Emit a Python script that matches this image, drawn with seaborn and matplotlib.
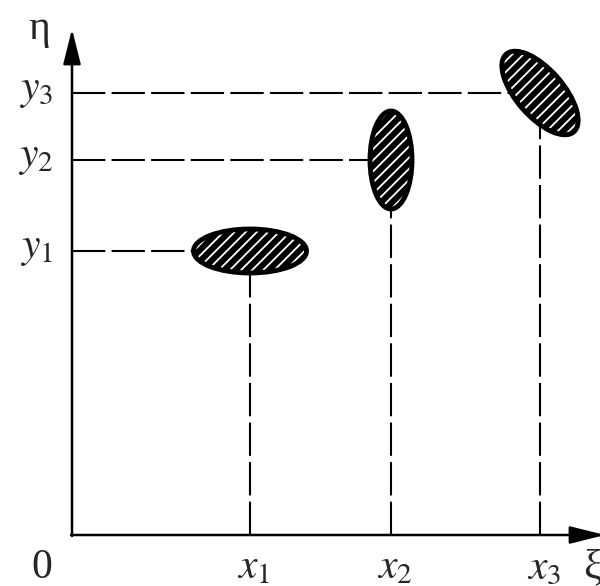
import pandas as pd
import seaborn as sns
import matplotlib.pyplot as plt
from matplotlib.patches import Ellipse

# Points (positions of the three regions on the xi / eta axes)
x_vals = [178, 319, 468]
y_vals = [284, 375, 442]
x_labels = ['$x_1$', '$x_2$', '$x_3$']
y_labels = ['$y_1$', '$y_2$', '$y_3$']

# Shape of each region around its point
ell_width = [113, 42, 103]
ell_height = [44, 98, 47]
ell_angle = [0, 0, -49]

sns.set_theme(style='white')
plt.rcParams['mathtext.fontset'] = 'stix'
plt.rcParams['font.family'] = ['Liberation Serif', 'DejaVu Serif']
plt.rcParams['hatch.linewidth'] = 1.3

fig = plt.figure(figsize=(6, 5.86), dpi=100)
ax = fig.add_axes([0, 0, 1, 1])
ax.set_xlim(-72, 528)
ax.set_ylim(-51, 535)
ax.axis('off')

# Dashed guide lines from the axes to each point
rows = []
for i, (x, y) in enumerate(zip(x_vals, y_vals)):
    rows += [{'seg': 2 * i, 'x': 0, 'y': y}, {'seg': 2 * i, 'x': x, 'y': y}]
    rows += [{'seg': 2 * i + 1, 'x': x, 'y': 0}, {'seg': 2 * i + 1, 'x': x, 'y': y}]
guides = pd.DataFrame(rows)
sns.lineplot(data=guides, x='x', y='y', units='seg', estimator=None, sort=False,
             color='black', lw=1.5, linestyle=(0, (16, 3)), ax=ax, zorder=1)

# Axes with arrow heads
arrow = dict(arrowstyle='-|>,head_length=0.6,head_width=0.15', mutation_scale=36,
             color='black', lw=1.8, shrinkA=0, shrinkB=0)
ax.annotate('', xy=(0, 506), xytext=(0, -1), arrowprops=arrow, zorder=3,
            annotation_clip=False)
ax.annotate('', xy=(533, 0), xytext=(-1, 0), arrowprops=arrow, zorder=3,
            annotation_clip=False)

# Hatched regions
for x, y, w, h, a in zip(x_vals, y_vals, ell_width, ell_height, ell_angle):
    ax.add_patch(Ellipse((x, y), w, h, angle=a, facecolor='black', edgecolor='white',
                         lw=0, hatch='///', zorder=4))
    ax.add_patch(Ellipse((x, y), w, h, angle=a, facecolor='none', edgecolor='black',
                         lw=3.5, zorder=5))

# Labels
fs = 30
for x, lab in zip(x_vals, x_labels):
    ax.text(x + 4, -43, lab, fontsize=fs, ha='center', va='baseline')
for y, lab in zip(y_vals, y_labels):
    ax.text(-19, y + 2, lab, fontsize=fs, ha='right', va='center')
ax.text(-30, -43, '0', fontsize=fs, ha='center', va='baseline')
ax.text(-33, 506, 'η', fontsize=fs, ha='center', va='center')
ax.text(511, -43, 'ξ', fontsize=fs, ha='left', va='baseline')

fig.savefig('out.png', dpi=100)
